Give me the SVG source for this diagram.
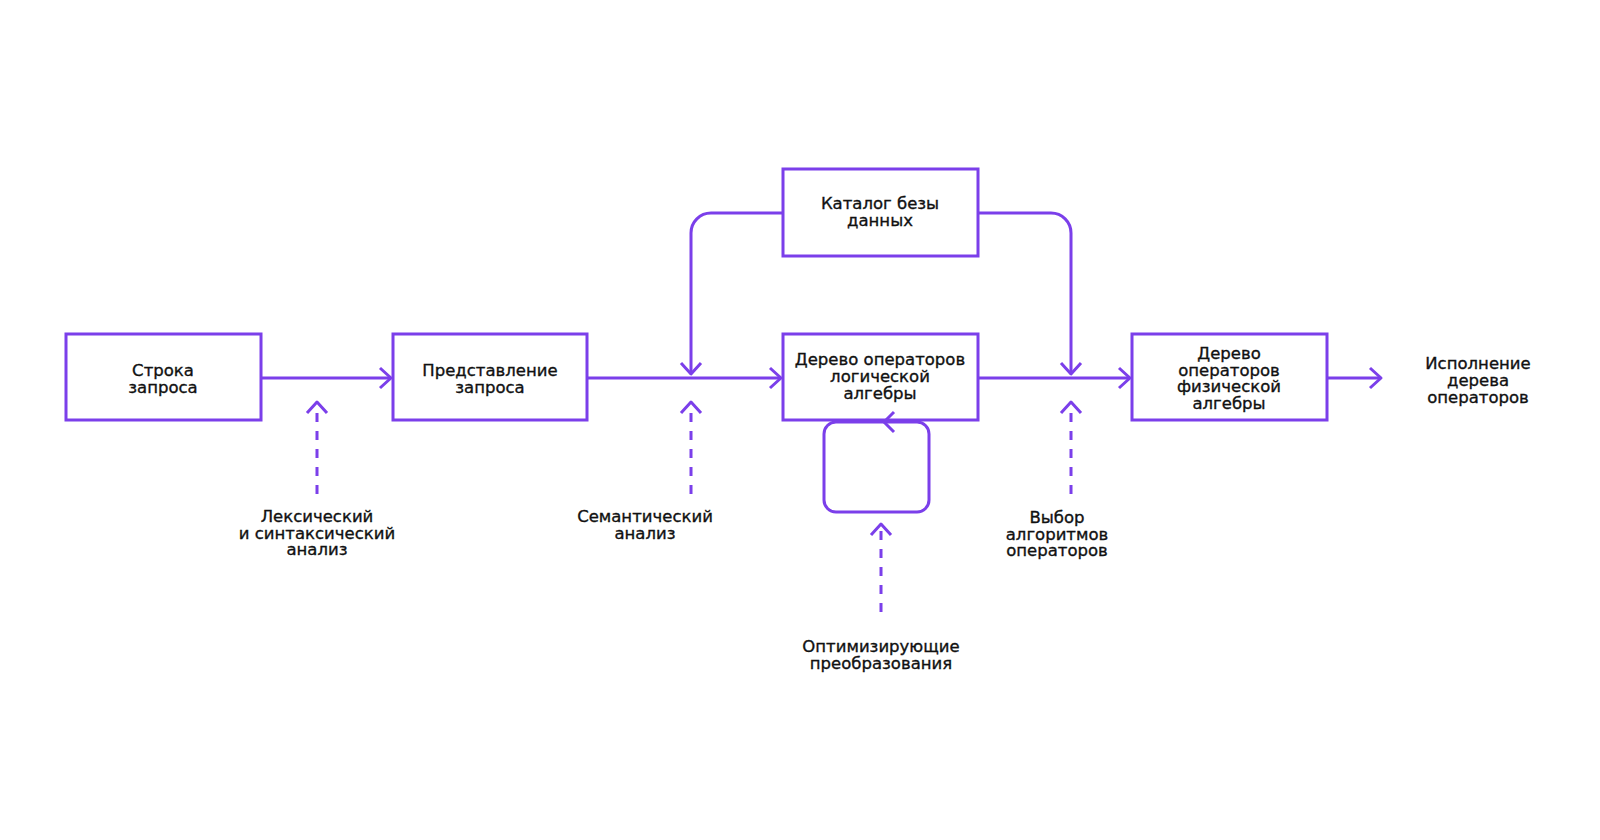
<svg xmlns="http://www.w3.org/2000/svg" width="1600" height="840" viewBox="0 0 1600 840">
<style>
.box{fill:#fff;stroke:#7B3FEA;stroke-width:3}
.ln{fill:none;stroke:#7B3FEA;stroke-width:3}
.dash{fill:none;stroke:#7B3FEA;stroke-width:3;stroke-dasharray:9 9}
.t{font-family:"DejaVu Sans","Liberation Sans",Arial,sans-serif;font-size:16.5px;fill:#111;stroke:#111;stroke-width:0.35px;text-anchor:middle}
</style>
<defs>
<marker id="ah" viewBox="-13 -12 16 24" refX="0" refY="0" markerWidth="16" markerHeight="24" markerUnits="userSpaceOnUse" orient="auto">
<path d="M-11,-10 L0,0 L-11,10" fill="none" stroke="#7B3FEA" stroke-width="3" stroke-dasharray="none" stroke-linejoin="round"/>
</marker>
</defs>
<rect width="1600" height="840" fill="#fff"/>
<g id="n1">
<rect class="box" x="66" y="334" width="195" height="86"/>
<text class="t" x="163" y="376">Строка<tspan x="163" dy="17">запроса</tspan></text>
</g>
<g id="n2">
<rect class="box" x="393" y="334" width="194" height="86"/>
<text class="t" x="490" y="376">Представление<tspan x="490" dy="17">запроса</tspan></text>
</g>
<g id="n3">
<rect class="box" x="783" y="334" width="195" height="86"/>
<text class="t" x="880" y="365">Дерево операторов<tspan x="880" dy="17">логической</tspan><tspan x="880" dy="17">алгебры</tspan></text>
</g>
<g id="n4">
<rect class="box" x="783" y="169" width="195" height="87"/>
<text class="t" x="880" y="209">Каталог безы<tspan x="880" dy="17">данных</tspan></text>
</g>
<g id="n5">
<rect class="box" x="1132" y="334" width="195" height="86"/>
<text class="t" x="1229" y="359">Дерево<tspan x="1229" dy="16.5">операторов</tspan><tspan x="1229" dy="16.5">физической</tspan><tspan x="1229" dy="16.5">алгебры</tspan></text>
</g>
<g id="n6">
<text class="t" x="1478" y="369">Исполнение<tspan x="1478" dy="17">дерева</tspan><tspan x="1478" dy="17">операторов</tspan></text>
</g>
<g id="l1">
<text class="t" x="317" y="522">Лексический<tspan x="317" dy="16.5">и синтаксический</tspan><tspan x="317" dy="16.5">анализ</tspan></text>
</g>
<g id="l2">
<text class="t" x="645" y="522">Семантический<tspan x="645" dy="16.5">анализ</tspan></text>
</g>
<g id="l3">
<text class="t" x="1057" y="523">Выбор<tspan x="1057" dy="16.5">алгоритмов</tspan><tspan x="1057" dy="16.5">операторов</tspan></text>
</g>
<g id="l4">
<text class="t" x="881" y="652">Оптимизирующие<tspan x="881" dy="16.5">преобразования</tspan></text>
</g>
<g id="connectors">
<path class="ln" d="M261,378 H391" marker-end="url(#ah)"/>
<path class="ln" d="M587,378 H781" marker-end="url(#ah)"/>
<path class="ln" d="M978,378 H1130" marker-end="url(#ah)"/>
<path class="ln" d="M1327,378 H1381" marker-end="url(#ah)"/>
<path class="ln" d="M783,213 H711 A20,20 0 0 0 691,233 V374" marker-end="url(#ah)"/>
<path class="ln" d="M978,213 H1051 A20,20 0 0 1 1071,233 V374" marker-end="url(#ah)"/>
<path class="dash" d="M317,494 V402" marker-end="url(#ah)"/>
<path class="dash" d="M691,494 V402" marker-end="url(#ah)"/>
<path class="dash" d="M1071,494 V402" marker-end="url(#ah)"/>
<path class="dash" d="M881,612 V524" marker-end="url(#ah)"/>
<path class="ln" d="M883,422 H917 A12,12 0 0 1 929,434 V500 A12,12 0 0 1 917,512 H836 A12,12 0 0 1 824,500 V434 A12,12 0 0 1 836,422 H883"/>
<path class="ln" d="M894,412 L884,422 L894,432" stroke-linejoin="round"/>
</g>
</svg>
